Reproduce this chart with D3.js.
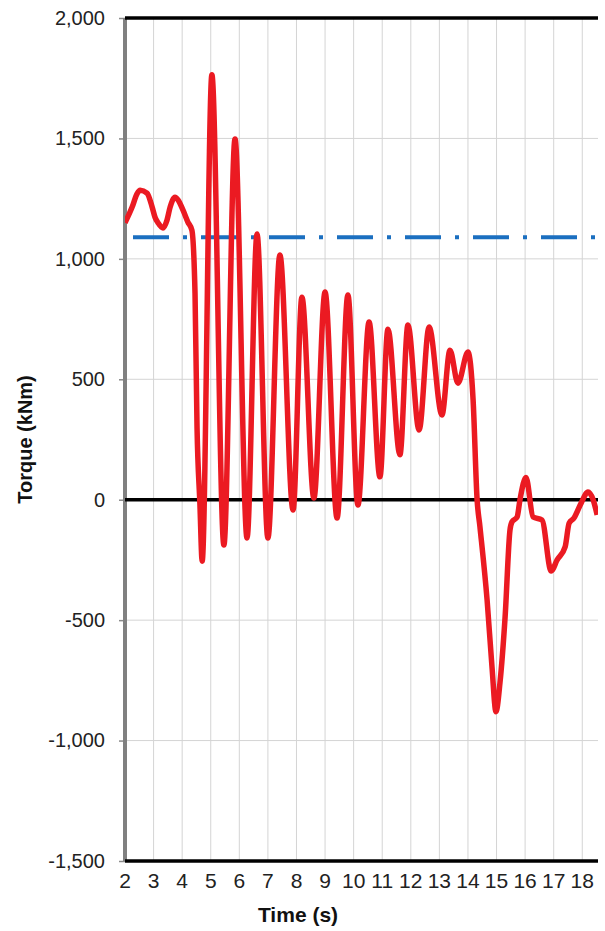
<!DOCTYPE html>
<html>
<head>
<meta charset="utf-8">
<script src="https://cdn.jsdelivr.net/npm/d3@7"></script>
<style>
  body { margin: 0; background: #fff; }
  text { font-family: "Liberation Sans", Arial, sans-serif; }
</style>
</head>
<body>
<div id="chart"></div>
<script>
var svgWidth = 605;
var svgHeight = 931;
var margin = {top: 18, right: 7, bottom: 70, left: 125};
var width = svgWidth - margin.left - margin.right;
var height = svgHeight - margin.top - margin.bottom;

// red torque trace
var timeS = [2.00, 2.25, 2.42, 2.53, 2.77, 2.95, 3.05, 3.16, 3.33, 3.47, 3.58, 3.75, 3.86, 4.03, 4.20,
  4.34, 4.45, 4.52, 4.62, 4.70, 5.04, 5.46, 5.85, 6.27, 6.62, 7.00, 7.42, 7.88, 8.19, 8.61,
  9.00, 9.42, 9.80, 10.15, 10.54, 10.92, 11.20, 11.62, 11.90, 12.29, 12.64, 13.09, 13.37, 13.65,
  14.00, 14.18, 14.32, 14.42, 14.67, 14.84, 14.98, 15.12, 15.30, 15.47, 15.54, 15.72, 15.82,
  16.03, 16.28, 16.59, 16.91, 17.12, 17.40, 17.54, 17.71, 17.96, 18.20, 18.38, 18.52];
var torque = [1150, 1215, 1270, 1285, 1273, 1215, 1173, 1149, 1128, 1161, 1215, 1256, 1244, 1202, 1153,
  1119, 857, 302, -14, -255, 1764, -188, 1498, -159, 1103, -159, 1016, -43, 841, 7,
  862, -76, 850, -22, 738, 95, 708, 187, 725, 289, 717, 352, 621, 484,
  613, 414, 0, -113, -417, -693, -880, -760, -486, -126, -92, -72, 0,
  92, -72, -84, -296, -250, -196, -97, -76, -14, 32, 0, -63];

// blue dash-dot limit line
var limitTorque = 1090;

var yTicks = [-1500, -1000, -500, 0, 500, 1000, 1500, 2000];
var xTicks = [2, 3, 4, 5, 6, 7, 8, 9, 10, 11, 12, 13, 14, 15, 16, 17, 18];
var xDomain = [2, 18.55];

var svg = d3.select("#chart")
  .append("svg")
  .attr("width", svgWidth)
  .attr("height", svgHeight);

var chartMain = svg.append("g")
  .attr("transform", `translate(${margin.left}, ${margin.top})`);

var xScale = d3.scaleLinear().domain(xDomain).range([0, width]);
var yScale = d3.scaleLinear().domain([-1500, 2000]).range([height, 0]);

var fmt = d3.formatLocale({decimal: ".", thousands: ",", grouping: [3], currency: ["", ""], minus: "-"}).format(",");

// gridlines
chartMain.append("g")
  .selectAll("line")
  .data(yTicks)
  .enter()
  .append("line")
  .attr("x1", 0)
  .attr("x2", width)
  .attr("y1", d => yScale(d))
  .attr("y2", d => yScale(d))
  .attr("stroke", "#d4d4d4")
  .attr("stroke-width", 1);

chartMain.append("g")
  .selectAll("line")
  .data(xTicks.slice(1))
  .enter()
  .append("line")
  .attr("x1", d => xScale(d))
  .attr("x2", d => xScale(d))
  .attr("y1", 0)
  .attr("y2", height)
  .attr("stroke", "#d4d4d4")
  .attr("stroke-width", 1);

// left axis
var leftAxis = d3.axisLeft(yScale)
  .tickValues(yTicks)
  .tickSize(6)
  .tickPadding(14)
  .tickFormat(fmt);

var yAxisG = chartMain.append("g").call(leftAxis);
yAxisG.select(".domain").remove();
yAxisG.selectAll(".tick line").attr("stroke", "#8a8a8a").attr("stroke-width", 1.5);
yAxisG.selectAll(".tick text")
  .style("font-size", "20px")
  .style("font-family", "Liberation Sans, Arial, sans-serif")
  .attr("fill", "#222");

chartMain.append("line")
  .attr("x1", 0)
  .attr("x2", 0)
  .attr("y1", 0)
  .attr("y2", height)
  .attr("stroke", "#808080")
  .attr("stroke-width", 4);

// top border, zero line and bottom axis line
[2000, 0, -1500].forEach(function(v) {
  chartMain.append("line")
    .attr("x1", 0)
    .attr("x2", width)
    .attr("y1", yScale(v))
    .attr("y2", yScale(v))
    .attr("stroke", "#000")
    .attr("stroke-width", 3.5);
});

// x tick labels
chartMain.append("g")
  .selectAll("text")
  .data(xTicks)
  .enter()
  .append("text")
  .attr("x", d => xScale(d))
  .attr("y", height + 27)
  .attr("text-anchor", "middle")
  .style("font-size", "21px")
  .attr("fill", "#222")
  .text(d => d);

svg.append("clipPath")
  .attr("id", "plotClip")
  .append("rect")
  .attr("width", width)
  .attr("height", height);

var plot = chartMain.append("g").attr("clip-path", "url(#plotClip)");

// limit line
plot.append("line")
  .attr("x1", xScale(xDomain[0]))
  .attr("x2", xScale(xDomain[1]))
  .attr("y1", yScale(limitTorque))
  .attr("y2", yScale(limitTorque))
  .attr("stroke", "#1b6fc0")
  .attr("stroke-width", 4)
  .attr("stroke-dasharray", "36,14,4,14")
  .attr("stroke-dashoffset", 60);

var trace = timeS.map((t, i) => ({t: t, v: torque[i]}));

var line = d3.line()
  .x(d => xScale(d.t))
  .y(d => yScale(d.v))
  .curve(d3.curveMonotoneX);

plot.append("path")
  .datum(trace)
  .attr("d", line)
  .attr("fill", "none")
  .attr("stroke", "#eb1a22")
  .attr("stroke-width", 5.5)
  .attr("stroke-linejoin", "round");

// axis titles
svg.append("text")
  .attr("transform", `translate(32, ${margin.top + height / 2}) rotate(-90)`)
  .attr("text-anchor", "middle")
  .style("font-size", "20px")
  .style("font-weight", "bold")
  .attr("fill", "#111")
  .text("Torque (kNm)");

svg.append("text")
  .attr("x", 298)
  .attr("y", 922)
  .attr("text-anchor", "middle")
  .style("font-size", "21px")
  .style("font-weight", "bold")
  .attr("fill", "#111")
  .text("Time (s)");
</script>
</body>
</html>
